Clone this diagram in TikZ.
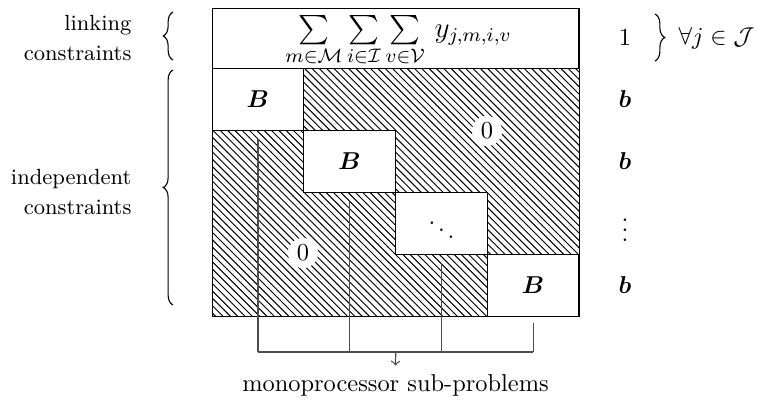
\documentclass[tikz,border=0pt]{standalone}
\usepackage{amsmath,amssymb,bm}
\usetikzlibrary{patterns,decorations.pathreplacing}

\newcommand{\blk}{\bm{B}}
\newcommand{\rhs}{\bm{b}}

\begin{document}
\begin{tikzpicture}[x=0.0144cm, y=-0.0144cm, line width=0.4pt,
  block/.style={draw, fill=white, minimum width=1.321cm, minimum height=0.893cm, inner sep=0pt},
  zero/.style={circle, fill=white, inner sep=1.5pt},
  feed/.style={draw=black!70, line width=0.5pt},
  cbrace/.style={decorate, decoration={brace, amplitude=4pt}, line width=0.45pt},
  side/.style={anchor=east, align=right, font=\small}]
  \useasboundingbox (0,0) rectangle (758,408);
  \fill[pattern=north west lines] (212,68) rectangle (579,316);
  \draw (212,8) rectangle (579,316);
  \node[draw, minimum width=5.285cm, minimum height=0.864cm, inner sep=0pt] (linkrow) at (395.5,38) {};
  \node[font=\large, inner sep=0pt] (sum) at (398.5,41) {$\sum\limits_{m\in\mathcal{M}}\sum\limits_{i\in\mathcal{I}}\sum\limits_{v\in\mathcal{V}}\, y_{j,m,i,v}$};
  \node[block] (B1) at (257.9,99) {$\blk$};
  \node[block] (B2) at (349.6,161) {$\blk$};
  \node[block] (B3) at (441.4,223) {$\ddots$};
  \node[block] (B4) at (533.1,285) {$\blk$};
  \node[zero] (z1) at (487,131) {$0$};
  \node[zero] (z2) at (303,253) {$0$};
  \node (r0) at (625,38) {$1$};
  \node (r1) at (625,99) {$\rhs$};
  \node (r2) at (625,161) {$\rhs$};
  \node (r3) at (625,223) {$\vdots$};
  \node (r4) at (625,285) {$\rhs$};
  \node[anchor=west] (forall) at (670,38) {$\forall j\in\mathcal{J}$};
  \draw[cbrace] (655,14) -- (655,61);
  \draw[cbrace] (173,60) -- (173,12);
  \draw[cbrace] (173,305) -- (173,70);
  \node[side] (linklbl) at (140,38) {linking\\[1.2pt]constraints};
  \node[side] (indlbl) at (140,192) {independent\\[1.2pt]constraints};
  \coordinate (bus) at (395.7,352);
  \foreach \b in {B1,B2,B3}
    \draw[feed] ([yshift=-0.12cm]\b.south) -- (\b.south |- bus);
  \draw[feed] ([yshift=-0.09cm]B4.south) -- (B4.south |- bus);
  \draw[feed] (B1.south |- bus) -- (B4.south |- bus);
  \node (mono) at (395.5,385) {monoprocessor sub-problems};
  \draw[feed, ->] (bus) -- (mono.north);
\end{tikzpicture}
\end{document}
